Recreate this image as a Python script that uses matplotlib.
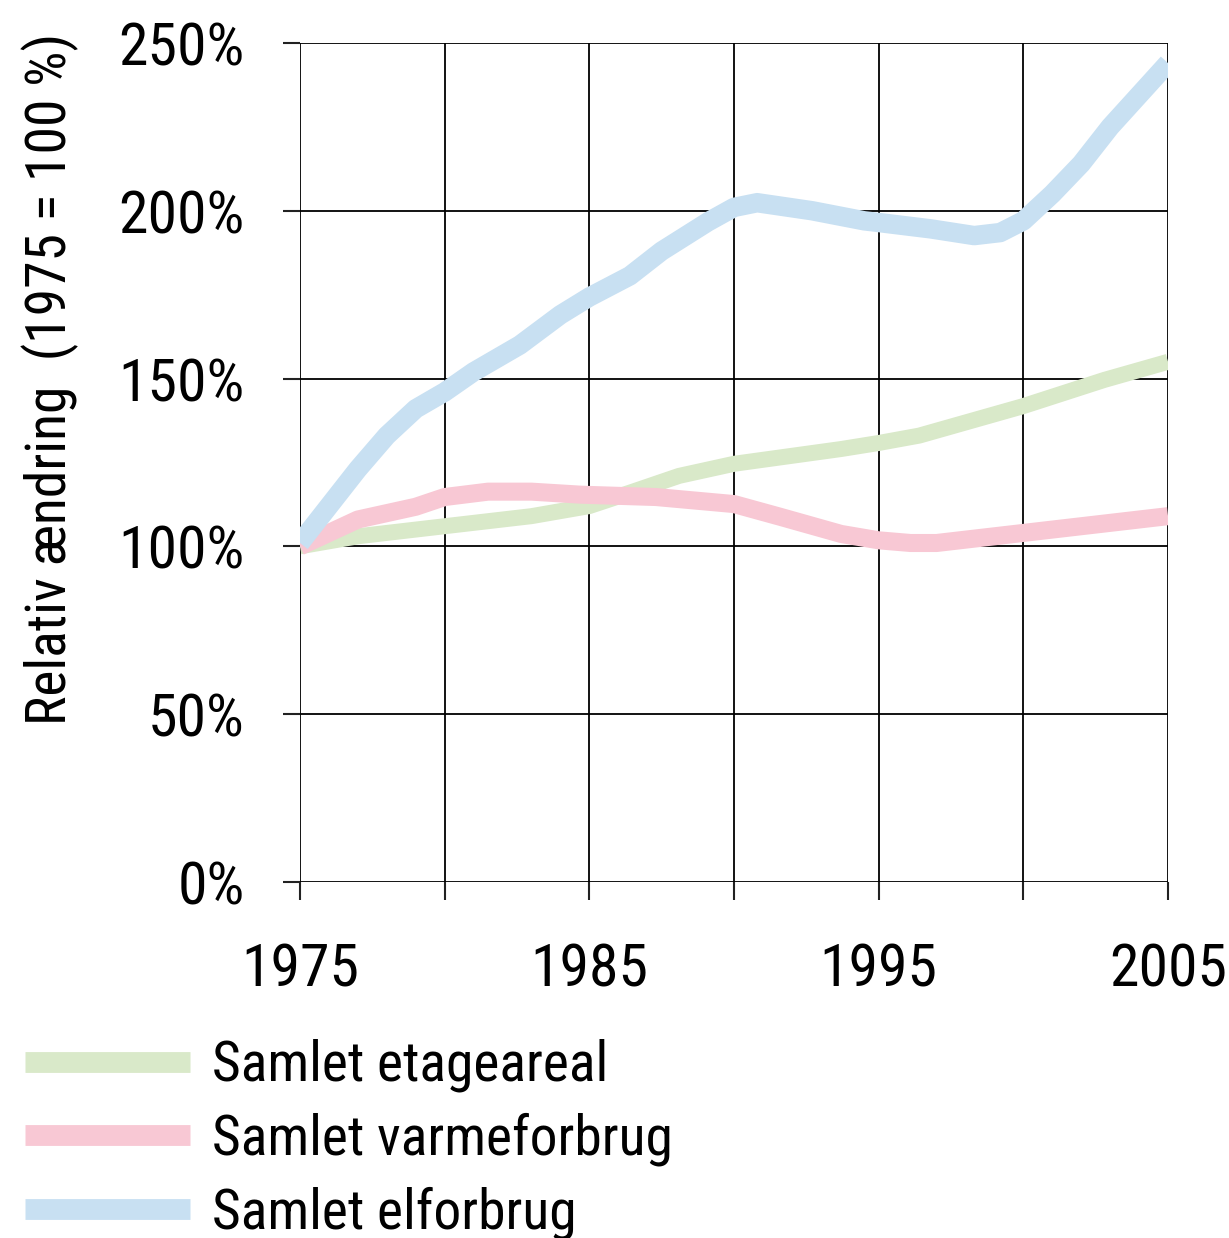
from matplotlib import pyplot as plt
import numpy as np

plt.rcParams['font.family'] = ['Roboto Condensed', 'DejaVu Sans']

# data (1975 = 100)
years_el = [1975, 1976, 1977, 1978, 1979, 1980, 1981, 1982.6, 1984, 1985, 1986.4, 1987.5,
            1989.1, 1990, 1990.8, 1992.7, 1994.5, 1995, 1996.8, 1998.3, 1999.2, 2000,
            2001, 2002, 2003, 2004, 2005]
el = [101, 112, 123, 133, 141, 146, 152, 160, 169, 174.3, 180.6, 188,
      196.7, 201, 202.4, 200, 197, 196.5, 194.6, 192.6, 193.5, 197,
      205, 214, 225, 234.5, 244]

years_areal = [1975, 1977, 1980, 1983, 1985, 1986.4, 1988.1, 1990, 1993.7, 1995, 1996.4,
               2000, 2002.8, 2005]
areal = [100, 103, 106, 109, 112, 116, 121, 124.6, 129, 130.8, 133, 141.8, 149.6, 155]

years_varme = [1975, 1977, 1979, 1980, 1981.5, 1983, 1984.7, 1987.3, 1990, 1991.6, 1993.7,
               1995, 1996.1, 1997, 2000, 2005]
varme = [100, 108, 111.8, 114.7, 116.3, 116.3, 115.4, 114.7, 112.6, 108.8, 103.7,
         101.8, 101, 101, 104, 109]

labels = ["Samlet etageareal", "Samlet varmeforbrug", "Samlet elforbrug"]
xticks = [1975, 1980, 1985, 1990, 1995, 2000, 2005]
xticklabels = ["1975", "", "1985", "", "1995", "", "2005"]
yticks = [0, 50, 100, 150, 200, 250]
yticklabels = ["0%", "50%", "100%", "150%", "200%", "250%"]

fs = 43
fs_text = 40
fig = plt.figure(figsize=(12.29, 12.38), dpi=100)
ax = fig.add_axes([0.2441, 0.2876, 0.9504 - 0.2441, 0.9653 - 0.2876])

kw = dict(solid_capstyle='butt', solid_joinstyle='round')
ax.plot(years_areal, areal, color="#d9e9c9", lw=11.5, label=labels[0], zorder=3, **kw)
ax.plot(years_varme, varme, color="#f8c8d4", lw=13, label=labels[1], zorder=4, **kw)
ax.plot(years_el, el, color="#c8e0f2", lw=14, label=labels[2], zorder=5, **kw)

ax.set_xlim(1975, 2005)
ax.set_ylim(0, 250)
ax.set_xticks(xticks)
ax.set_xticklabels(xticklabels)
ax.set_yticks(yticks)
ax.set_yticklabels(yticklabels)
ax.grid(True, color="black", lw=1.3, zorder=1)
ax.set_axisbelow(True)
for s in ax.spines.values():
    s.set_visible(False)
ax.tick_params(axis='y', length=12, width=1.5, color="#222222", pad=28, labelsize=fs)
ax.tick_params(axis='x', length=13, width=1.5, color="#222222", pad=30, labelsize=fs)

fig.text(50 / 1229, 1 - 379 / 1238, "Relativ ændring  (1975 = 100 %)", rotation=90,
         ha='center', va='center', fontsize=fs_text)

leg = fig.legend(loc='upper left', bbox_to_anchor=(25 / 1229, 1 - 1039 / 1238), frameon=False,
                 fontsize=fs_text, handlelength=2.97, handletextpad=0.4, labelspacing=0.36,
                 borderpad=0, borderaxespad=0)
for h in leg.get_lines():
    h.set_linewidth(15)

plt.savefig("out.png")
